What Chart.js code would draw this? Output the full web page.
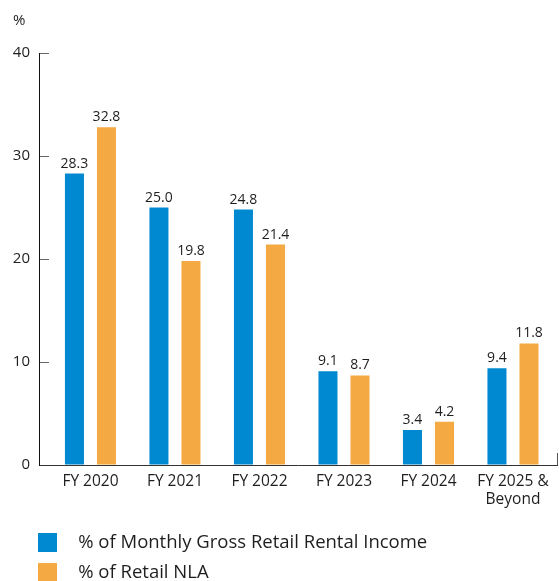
<!DOCTYPE html>
<html>
<head>
<meta charset="utf-8">
<script src="https://cdn.jsdelivr.net/npm/chart.js@4"></script>
<style>
html,body{margin:0;padding:0;background:#fff;}
#wrap{position:relative;width:559px;height:581px;}
</style>
</head>
<body>
<div id="wrap"><canvas id="c" width="559" height="581"></canvas></div>
<script>
const categories = [['FY 2020'], ['FY 2021'], ['FY 2022'], ['FY 2023'], ['FY 2024'], ['FY 2025 &', 'Beyond']];
const seriesNames = ['% of Monthly Gross Retail Rental Income', '% of Retail NLA'];
const incomeValues = [28.3, 25.0, 24.8, 9.1, 3.4, 9.4];
const nlaValues = [32.8, 19.8, 21.4, 8.7, 4.2, 11.8];
const yTicks = [0, 10, 20, 30, 40];
const seriesColors = ['#0089D0', '#F5A942'];

const X_MIN = -0.609, X_MAX = 5.521;
const FONT = "'Open Sans', sans-serif";
const TEXT = '#1e1e1e';

function legendSwatch(color) {
  const cv = document.createElement('canvas');
  cv.width = 44; cv.height = 19;
  const g = cv.getContext('2d');
  g.fillStyle = color;
  g.fillRect(13, 0, 19, 19);
  return cv;
}

const valueLabels = {
  id: 'valueLabels',
  afterDatasetsDraw(chart) {
    const ctx = chart.ctx;
    ctx.save();
    ctx.font = '14px ' + FONT;
    ctx.fillStyle = TEXT;
    ctx.textAlign = 'center';
    ctx.textBaseline = 'alphabetic';
    chart.data.datasets.forEach((ds, di) => {
      const meta = chart.getDatasetMeta(di);
      meta.data.forEach((bar, i) => {
        ctx.fillText(ds.data[i].y.toFixed(1), bar.x, bar.y - 6);
      });
    });
    ctx.restore();
  }
};

const series = [incomeValues, nlaValues];
new Chart(document.getElementById('c'), {
  type: 'bar',
  data: {
    datasets: series.map((vals, s) => ({
      label: seriesNames[s],
      data: vals.map((v, i) => ({x: i, y: v})),
      backgroundColor: seriesColors[s],
      borderWidth: 0,
      pointStyle: legendSwatch(seriesColors[s]),
      categoryPercentage: 1.4545,
      barPercentage: 0.594
    }))
  },
  options: {
    responsive: false,
    animation: false,
    devicePixelRatio: 1,
    layout: { padding: { left: 13, right: 2, top: 0, bottom: 0 } },
    plugins: {
      tooltip: { enabled: false },
      title: {
        display: true, text: '%', align: 'start', color: TEXT,
        font: { family: FONT, size: 15, weight: 'normal', lineHeight: 1.2 },
        padding: { top: 12, bottom: 23 }
      },
      legend: {
        display: true, position: 'bottom', align: 'start', maxHeight: 60,
        labels: {
          usePointStyle: true, pointStyleWidth: 44, padding: 12,
          color: TEXT, font: { family: FONT, size: 18.5 }
        }
      }
    },
    scales: {
      x: {
        type: 'linear', min: X_MIN, max: X_MAX, offset: false,
        afterBuildTicks(scale) {
          scale.ticks = categories.map((c, i) => ({value: i})).concat([{value: X_MAX}]);
        },
        afterFit(scale) { scale.height = 56; scale.paddingLeft = 0; scale.paddingRight = 0; },
        grid: {
          offset: false,
          drawOnChartArea: false, drawTicks: true, tickLength: -12,
          tickColor: (ctx) => (ctx.tick && ctx.tick.value === X_MAX) ? '#555' : 'rgba(0,0,0,0)',
          color: 'rgba(0,0,0,0)'
        },
        border: { display: true, color: '#333', width: 1 },
        ticks: {
          autoSkip: false, maxRotation: 0, padding: 20, color: TEXT,
          font: { family: FONT, size: 15.5, lineHeight: 1.15 },
          callback: (v) => (categories[v] !== undefined ? categories[v] : '')
        }
      },
      y: {
        min: 0, max: 40,
        afterBuildTicks(scale) { scale.ticks = yTicks.map(v => ({value: v})); },
        afterFit(scale) { scale.width = 26; },
        grid: { drawOnChartArea: false, drawTicks: true, tickLength: -10, tickColor: '#666', color: '#666' },
        border: { display: true, color: '#111', width: 1 },
        ticks: {
          padding: 19, color: TEXT,
          font: { family: FONT, size: 15 }
        }
      }
    }
  },
  plugins: [valueLabels]
});
</script>
</body>
</html>
